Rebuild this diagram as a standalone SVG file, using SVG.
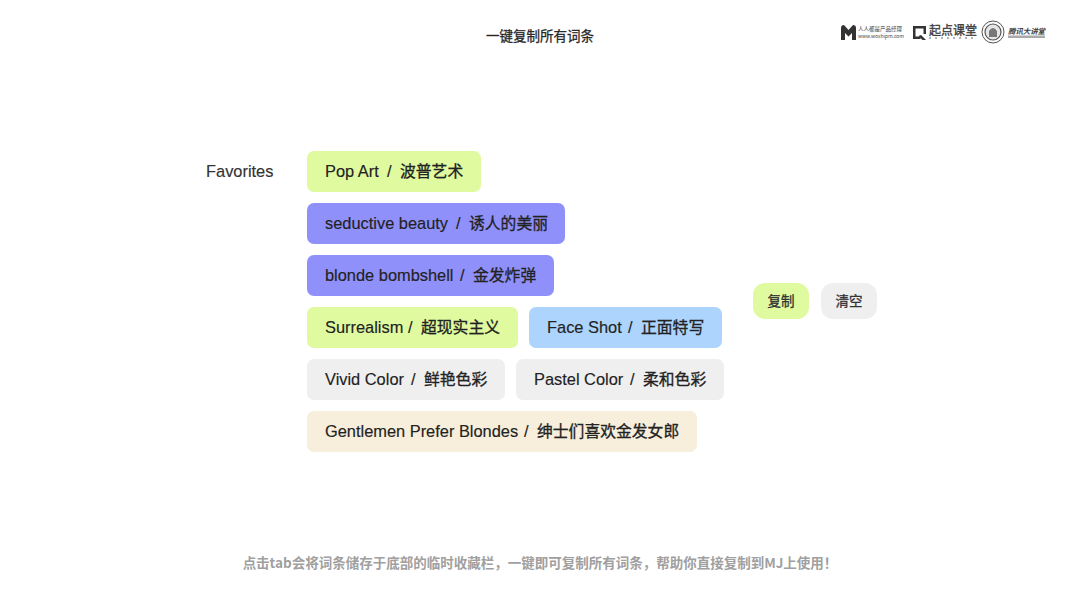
<svg xmlns="http://www.w3.org/2000/svg" width="1080" height="605" viewBox="0 0 1080 605">
<style>
text{font-family:"Liberation Sans","Noto Sans CJK SC",sans-serif}
.t{font-size:16.400px;fill:#222;stroke:#222;stroke-width:.15px}
.z{font-family:"Noto Sans CJK SC",sans-serif;font-size:15.800px;stroke-width:.3px}
.g{fill:#e0fb9f}.p{fill:#9090fa}.b{fill:#acd4fd}.e{fill:#efefef}.c{fill:#f7eedb}
.logo{fill:#444;font-family:"Noto Sans CJK SC",sans-serif}
.cn{font-family:"Noto Sans CJK SC",sans-serif;font-size:13.500px}
.s{stroke:#333;stroke-width:.3px}
</style>
<rect width="1080" height="605" fill="#fff"/>
<text id="title" class="cn s" x="540" y="41" text-anchor="middle" fill="#222">一键复制所有词条</text>
<g id="logos">
<path d="M841 40V28q0-3 3-3l4.500 5 4.500-5q3 0 3 3v12h-4v-7l-3.500 3.500-3.500-3.500v7z" fill="#333"/>
<text class="logo" x="858" y="31" font-size="5.500">人人都是产品经理</text>
<text class="logo" x="858" y="37.500" font-size="5" fill="#666">www.woshipm.com</text>
<path d="M913 26h13v8h-2.500v-5.500h-8v8h5v2.500h-7.500z" fill="#333"/>
<path d="M921 35l5 5h-3.500l-4-4z" fill="#333"/>
<text class="logo s" x="929" y="34.500" font-size="12">起点课堂</text>
<path d="M929 38h47" stroke="#999" stroke-width="1.500" stroke-dasharray="2 4" fill="none"/>
<circle cx="993" cy="32" r="11" fill="#fff" stroke="#555" stroke-width="1"/>
<circle cx="993" cy="32" r="8" fill="#e6e6e6" stroke="#555" stroke-width="1.200"/>
<path d="M989 37v-6q4-6 8 0v6z" fill="#777"/>
<text class="logo" x="1008" y="33.500" font-size="7.400" font-weight="700" font-style="italic">腾讯大讲堂</text>
<rect x="1008" y="35.500" width="37" height="2.500" fill="#aaa"/>
</g>
<text id="favorites" x="206" y="177" font-size="16.400" fill="#333" stroke="#333" stroke-width=".15">Favorites</text>
<g id="tag1"><rect class="g" x="307" y="151" width="174" height="41" rx="7"/><text class="t" x="325" y="177">Pop Art<tspan x="387">/</tspan><tspan class="z" x="400">波普艺术</tspan></text></g>
<g id="tag2"><rect class="p" x="307" y="203" width="258" height="41" rx="7"/><text class="t" x="325" y="229">seductive beauty<tspan x="456">/</tspan><tspan class="z" x="469">诱人的美丽</tspan></text></g>
<g id="tag3"><rect class="p" x="307" y="255" width="247" height="41" rx="7"/><text class="t" x="325" y="281">blonde bombshell<tspan x="460">/</tspan><tspan class="z" x="473">金发炸弹</tspan></text></g>
<g id="tag4"><rect class="g" x="307" y="307" width="211" height="41" rx="7"/><text class="t" x="325" y="333">Surrealism<tspan x="408">/</tspan><tspan class="z" x="421">超现实主义</tspan></text></g>
<g id="tag5"><rect class="b" x="529" y="307" width="193" height="41" rx="7"/><text class="t" x="547" y="333">Face Shot<tspan x="628">/</tspan><tspan class="z" x="641">正面特写</tspan></text></g>
<g id="tag6"><rect class="e" x="307" y="359" width="198" height="41" rx="7"/><text class="t" x="325" y="385">Vivid Color<tspan x="411">/</tspan><tspan class="z" x="424">鲜艳色彩</tspan></text></g>
<g id="tag7"><rect class="e" x="516" y="359" width="208" height="41" rx="7"/><text class="t" x="534" y="385">Pastel Color<tspan x="630">/</tspan><tspan class="z" x="643">柔和色彩</tspan></text></g>
<g id="tag8"><rect class="c" x="307" y="411" width="390" height="41" rx="7"/><text class="t" x="325" y="437">Gentlemen Prefer Blondes<tspan x="524">/</tspan><tspan class="z" x="537">绅士们喜欢金发女郎</tspan></text></g>
<g id="copy"><rect class="g" x="753" y="283" width="56" height="36" rx="12"/><text class="cn s" x="781" y="306" text-anchor="middle" fill="#333">复制</text></g>
<g id="clear"><rect class="e" x="821" y="283" width="56" height="36" rx="12"/><text class="cn s" x="849" y="306" text-anchor="middle" fill="#333">清空</text></g>
<text id="caption" class="cn" x="540" y="568" text-anchor="middle" fill="#a0a0a0" font-weight="700">点击tab会将词条储存于底部的临时收藏栏，一键即可复制所有词条，帮助你直接复制到MJ上使用！</text>
<g id="connectors"></g>
</svg>
